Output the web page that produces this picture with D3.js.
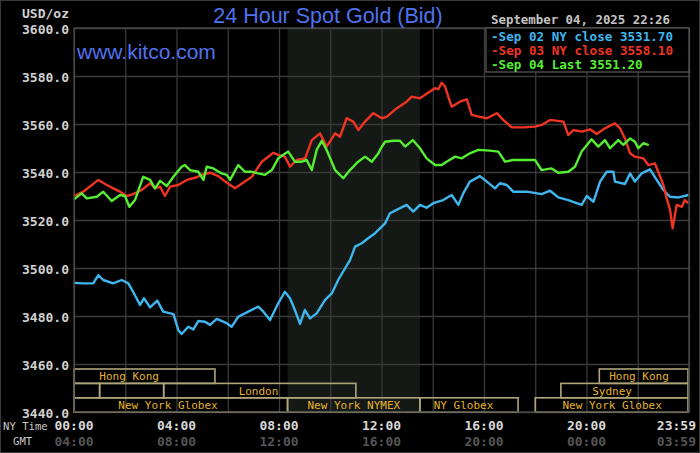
<!DOCTYPE html>
<html>
<head>
<meta charset="utf-8">
<script src="https://cdn.jsdelivr.net/npm/d3@7/dist/d3.min.js"></script>
<style>
  html, body { margin: 0; padding: 0; background: #000; }
  svg { display: block; }
</style>
</head>
<body>
<svg id="chart" width="700" height="453"></svg>
<script>
// ---------------- DATA ----------------
// [NY hour, price]
const sep02Prices = [
  [0.00,3493.8],[0.36,3493.6],[0.75,3493.6],[0.95,3497.0],[1.14,3495.0],[1.53,3493.6],[1.86,3495.0],
  [2.12,3493.6],[2.31,3490.0],[2.58,3484.6],[2.73,3487.4],[2.97,3483.6],[3.25,3486.4],[3.48,3481.8],
  [3.88,3480.8],[4.07,3474.2],[4.20,3472.5],[4.46,3475.5],[4.66,3474.4],[4.85,3477.9],[5.11,3477.6],
  [5.31,3476.3],[5.57,3478.8],[5.96,3477.0],[6.15,3475.5],[6.41,3479.7],[6.80,3481.8],[7.19,3483.9],
  [7.39,3481.8],[7.65,3478.3],[7.97,3485.3],[8.23,3490.1],[8.43,3487.4],[8.62,3482.5],[8.82,3476.7],
  [9.01,3482.5],[9.21,3479.0],[9.47,3481.1],[9.80,3486.7],[10.06,3489.4],[10.31,3495.0],[10.58,3499.9],
  [10.77,3503.3],[10.97,3508.9],[11.23,3510.3],[11.48,3512.4],[11.75,3514.5],[12.14,3518.6],[12.33,3522.8],
  [12.59,3524.2],[12.98,3526.3],[13.24,3523.5],[13.50,3526.3],[13.76,3525.1],[14.02,3527.0],[14.41,3528.3],
  [14.74,3530.4],[15.00,3526.3],[15.19,3531.1],[15.45,3536.0],[15.84,3538.3],[16.11,3536.0],[16.43,3533.2],
  [16.62,3535.3],[16.89,3534.6],[17.14,3531.8],[17.67,3531.8],[18.25,3530.8],[18.58,3532.2],[18.90,3529.4],
  [19.29,3528.3],[19.81,3526.3],[20.01,3530.0],[20.27,3527.6],[20.53,3536.0],[20.79,3540.1],[21.05,3540.1],
  [21.11,3536.0],[21.50,3535.0],[21.70,3539.4],[21.89,3536.0],[22.15,3539.4],[22.48,3541.1],[22.74,3536.7],
  [23.00,3532.5],[23.26,3529.7],[23.59,3529.4],[23.98,3530.4]
];
const sep03Prices = [
  [0.00,3530.0],[0.36,3531.8],[0.95,3536.7],[1.28,3534.6],[1.53,3533.2],[1.80,3531.8],[2.06,3530.0],
  [2.31,3530.8],[2.64,3532.5],[2.97,3535.3],[3.16,3533.2],[3.36,3533.9],[3.55,3530.0],[3.75,3533.9],
  [4.07,3534.6],[4.40,3536.7],[4.79,3537.8],[4.98,3538.8],[5.31,3539.7],[5.63,3538.3],[5.90,3536.0],
  [6.28,3533.2],[6.67,3536.0],[6.94,3538.0],[7.33,3544.3],[7.78,3548.0],[7.97,3547.1],[8.23,3546.4],
  [8.43,3542.2],[8.69,3545.0],[9.02,3545.7],[9.28,3553.3],[9.60,3556.1],[9.86,3550.6],[10.19,3556.1],
  [10.38,3554.7],[10.64,3562.4],[10.90,3561.0],[11.10,3557.5],[11.36,3561.0],[11.68,3564.5],[12.01,3562.4],
  [12.20,3563.0],[12.59,3566.5],[12.98,3569.3],[13.18,3571.4],[13.50,3570.7],[13.89,3573.5],[14.09,3574.9],
  [14.22,3574.5],[14.35,3577.2],[14.48,3575.6],[14.67,3569.3],[14.74,3567.2],[15.06,3569.3],[15.33,3570.3],
  [15.52,3563.8],[15.84,3563.0],[16.11,3562.4],[16.50,3564.5],[16.75,3561.7],[17.08,3558.6],[17.53,3558.6],
  [17.99,3558.9],[18.25,3559.6],[18.58,3561.7],[19.10,3561.0],[19.29,3555.4],[19.49,3557.5],[19.81,3556.8],
  [20.14,3557.8],[20.40,3555.8],[20.72,3558.2],[21.11,3560.3],[21.31,3558.2],[21.50,3554.0],[21.70,3547.8],
  [21.89,3546.4],[22.22,3545.7],[22.41,3542.9],[22.67,3543.6],[22.80,3540.1],[23.00,3534.6],[23.13,3529.0],
  [23.26,3524.2],[23.36,3516.5],[23.52,3526.3],[23.72,3525.5],[23.84,3528.3],[23.97,3527.0]
];
const sep04Prices = [
  [0.00,3528.6],[0.30,3531.1],[0.50,3529.0],[0.89,3529.7],[1.14,3531.8],[1.47,3527.9],[1.80,3530.4],
  [1.99,3530.0],[2.16,3525.5],[2.38,3528.3],[2.70,3538.0],[2.97,3536.7],[3.16,3533.2],[3.36,3536.3],
  [3.62,3534.2],[3.88,3538.0],[4.20,3542.2],[4.33,3542.9],[4.53,3540.8],[4.85,3540.1],[5.05,3536.7],
  [5.18,3542.2],[5.44,3541.5],[5.76,3539.4],[5.96,3538.8],[6.09,3536.7],[6.41,3542.9],[6.67,3540.1],
  [6.93,3540.1],[7.19,3539.4],[7.45,3538.8],[7.72,3540.8],[7.97,3545.7],[8.36,3548.5],[8.62,3544.3],
  [8.89,3544.3],[9.08,3545.0],[9.28,3540.8],[9.47,3549.2],[9.67,3553.0],[9.86,3549.2],[10.19,3540.8],
  [10.51,3537.4],[10.77,3540.8],[11.09,3544.3],[11.36,3546.4],[11.62,3544.3],[11.88,3547.8],[11.95,3549.4],
  [12.14,3552.6],[12.46,3553.0],[12.72,3553.0],[12.92,3550.6],[13.22,3553.3],[13.50,3549.9],[13.76,3545.7],
  [14.09,3542.9],[14.35,3542.9],[14.54,3544.3],[14.87,3546.4],[15.13,3545.7],[15.45,3547.8],[15.78,3549.2],
  [16.23,3548.9],[16.56,3548.5],[16.82,3544.3],[17.14,3545.0],[17.67,3545.0],[17.99,3545.0],[18.25,3540.8],
  [18.64,3541.5],[18.90,3539.7],[19.29,3540.1],[19.55,3542.2],[19.81,3548.5],[20.20,3553.6],[20.46,3550.6],
  [20.72,3553.3],[20.92,3549.9],[21.24,3553.3],[21.44,3551.3],[21.70,3554.0],[21.89,3552.6],[22.02,3549.9],
  [22.22,3552.0],[22.43,3551.2]
];

const seriesNames = ["Sep 02 NY close 3531.70", "Sep 03 NY close 3558.10", "Sep 04 Last 3551.20"];
const yTicks = [3440, 3460, 3480, 3500, 3520, 3540, 3560, 3580, 3600];
const xTickHours = [0, 4, 8, 12, 16, 20];
const nyTimeLabels = ["00:00", "04:00", "08:00", "12:00", "16:00", "20:00"];
const gmtLabels = ["04:00", "08:00", "12:00", "16:00", "20:00", "00:00"];
const endNyLabel = "23:59";
const endGmtLabel = "03:59";
const nymexSession = [8.333, 13.5];
// market sessions: [row, startHour, endHour, label, labelHour]
const sessions = [
  [0, 0, 5.5, "Hong Kong", 2.15],
  [0, 20.5, 24, "Hong Kong", 22.05],
  [1, 0, 1.0, "", null],
  [1, 1.0, 3.5, "", null],
  [1, 3.5, 11.0, "London", 7.2],
  [1, 19.0, 24, "Sydney", 21.0],
  [2, 0, 8.333, "New York Globex", 3.67],
  [2, 8.333, 13.5, "New York NYMEX", 10.92],
  [2, 13.5, 17.33, "NY Globex", 15.2],
  [2, 18.0, 24, "New York Globex", 21.0]
];
const titleText = "24 Hour Spot Gold (Bid)";
const dateText = "September 04, 2025 22:26";

// ---------------- DRAW ----------------
const svg = d3.select("#chart");
const W = 700, H = 453;
const L = 74, R = 689, T = 28, B = 412;
const x = d3.scaleLinear().domain([0, 24]).range([L, R]);
const y = d3.scaleLinear().domain([3440, 3600]).range([B, T]);

const mono = "'DejaVu Sans Mono', 'Liberation Mono', monospace";
const sans = "'Liberation Sans', Arial, sans-serif";

svg.append("rect").attr("width", W).attr("height", H).attr("fill", "#000");
svg.append("rect").attr("x", 0.5).attr("y", 0.5).attr("width", W - 1).attr("height", H - 1)
  .attr("fill", "none").attr("stroke", "#3a3a3a");

// NYMEX shading
svg.append("rect")
  .attr("x", x(nymexSession[0])).attr("y", T)
  .attr("width", x(nymexSession[1]) - x(nymexSession[0])).attr("height", B - T)
  .attr("fill", "#151915");

// grid via axes
const gridY = svg.append("g").attr("transform", `translate(${L},0)`)
  .call(d3.axisLeft(y).tickValues(yTicks).tickSize(-(R - L)).tickFormat(""));
gridY.select(".domain").remove();
gridY.selectAll("line").attr("stroke", "#3a3a3a").attr("stroke-width", 1.3);

const gridX = svg.append("g").attr("transform", `translate(0,${B})`)
  .call(d3.axisBottom(x).tickValues(d3.range(0, 25, 2)).tickSize(-(B - T)).tickFormat(""));
gridX.select(".domain").remove();
gridX.selectAll("line").attr("stroke", "#3a3a3a").attr("stroke-width", 1.3);

// y tick labels
const yAx = svg.append("g").attr("transform", `translate(${L - 5},1)`)
  .call(d3.axisLeft(y).tickValues(yTicks).tickSize(0).tickPadding(0).tickFormat(d3.format(".1f")));
yAx.select(".domain").remove();
yAx.selectAll("text").attr("fill", "#d0d0d0").attr("font-family", mono)
  .attr("font-weight", "bold").attr("font-size", "13px");

svg.append("text").attr("x", L - 5).attr("y", 18).attr("text-anchor", "end")
  .attr("fill", "#d0d0d0").attr("font-family", mono).attr("font-weight", "bold")
  .attr("font-size", "13px").text("USD/oz");

// market session bars
const rowTop = 369, rowH = 14.4;
const sess = svg.append("g");
sessions.forEach(s => {
  const [row, a, b, label, lh] = s;
  const y0 = rowTop + row * rowH;
  sess.append("rect").attr("x", x(a)).attr("y", y0)
    .attr("width", x(b) - x(a) - (b >= 24 ? 1 : 0)).attr("height", rowH)
    .attr("fill", "none").attr("stroke", "#aea57a").attr("stroke-width", 1.6);
  if (label) {
    sess.append("text").attr("x", x(lh)).attr("y", y0 + rowH / 2 + 4)
      .attr("text-anchor", "middle").attr("fill", "#e2b22c")
      .attr("font-family", mono).attr("font-size", "11px").text(label);
  }
});

// series lines
const line = d3.line().x(d => x(d[0])).y(d => y(d[1]));
const colors = ["#3fb6ee", "#ee3422", "#55ee33"];
[sep02Prices, sep03Prices, sep04Prices].forEach((data, i) => {
  svg.append("path").datum(data).attr("d", line)
    .attr("fill", "none").attr("stroke", colors[i]).attr("stroke-width", 2.4)
    .attr("stroke-linejoin", "round");
});

// plot border
svg.append("rect").attr("x", L).attr("y", T).attr("width", R - L).attr("height", B - T)
  .attr("fill", "none").attr("stroke", "#4a4a4a").attr("stroke-width", 1.3);

// x labels
const xl = svg.append("g");
xTickHours.forEach((h, i) => {
  xl.append("text").attr("x", x(h)).attr("y", 429.5).attr("text-anchor", "middle")
    .attr("fill", "#d8d8d8").attr("font-family", mono).attr("font-weight", "bold")
    .attr("font-size", "13px").text(nyTimeLabels[i]);
  xl.append("text").attr("x", x(h)).attr("y", 445.5).attr("text-anchor", "middle")
    .attr("fill", "#555").attr("font-family", mono).attr("font-weight", "bold")
    .attr("font-size", "13px").text(gmtLabels[i]);
});
xl.append("text").attr("x", 696).attr("y", 429.5).attr("text-anchor", "end")
  .attr("fill", "#d8d8d8").attr("font-family", mono).attr("font-weight", "bold")
  .attr("font-size", "13px").text(endNyLabel);
xl.append("text").attr("x", 696).attr("y", 445.5).attr("text-anchor", "end")
  .attr("fill", "#555").attr("font-family", mono).attr("font-weight", "bold")
  .attr("font-size", "13px").text(endGmtLabel);
xl.append("text").attr("x", 3).attr("y", 430).attr("fill", "#c8c8c8")
  .attr("font-family", mono).attr("font-size", "10.6px").text("NY Time");
xl.append("text").attr("x", 13).attr("y", 445).attr("fill", "#c8c8c8")
  .attr("font-family", mono).attr("font-size", "10.6px").text("GMT");

// title & watermark
svg.append("text").attr("x", 328).attr("y", 23).attr("text-anchor", "middle")
  .attr("fill", "#5072ee").attr("font-family", sans).attr("font-size", "21.5px").text(titleText);
svg.append("text").attr("x", 77).attr("y", 59)
  .attr("fill", "#5072ee").attr("font-family", sans).attr("font-size", "21px").text("www.kitco.com");

// date
svg.append("text").attr("x", 491).attr("y", 24).attr("fill", "#c4c4c4")
  .attr("font-family", mono).attr("font-weight", "bold").attr("font-size", "12.4px").text(dateText);

// legend
svg.append("rect").attr("x", 486).attr("y", T).attr("width", R - 486).attr("height", 44)
  .attr("fill", "#000").attr("stroke", "#555").attr("stroke-width", 1.3);
seriesNames.forEach((n, i) => {
  svg.append("text").attr("x", 491).attr("y", 41 + i * 13.8).attr("fill", colors[i])
    .attr("font-family", mono).attr("font-weight", "bold").attr("font-size", "12.6px")
    .text("-" + n);
});
</script>
</body>
</html>
